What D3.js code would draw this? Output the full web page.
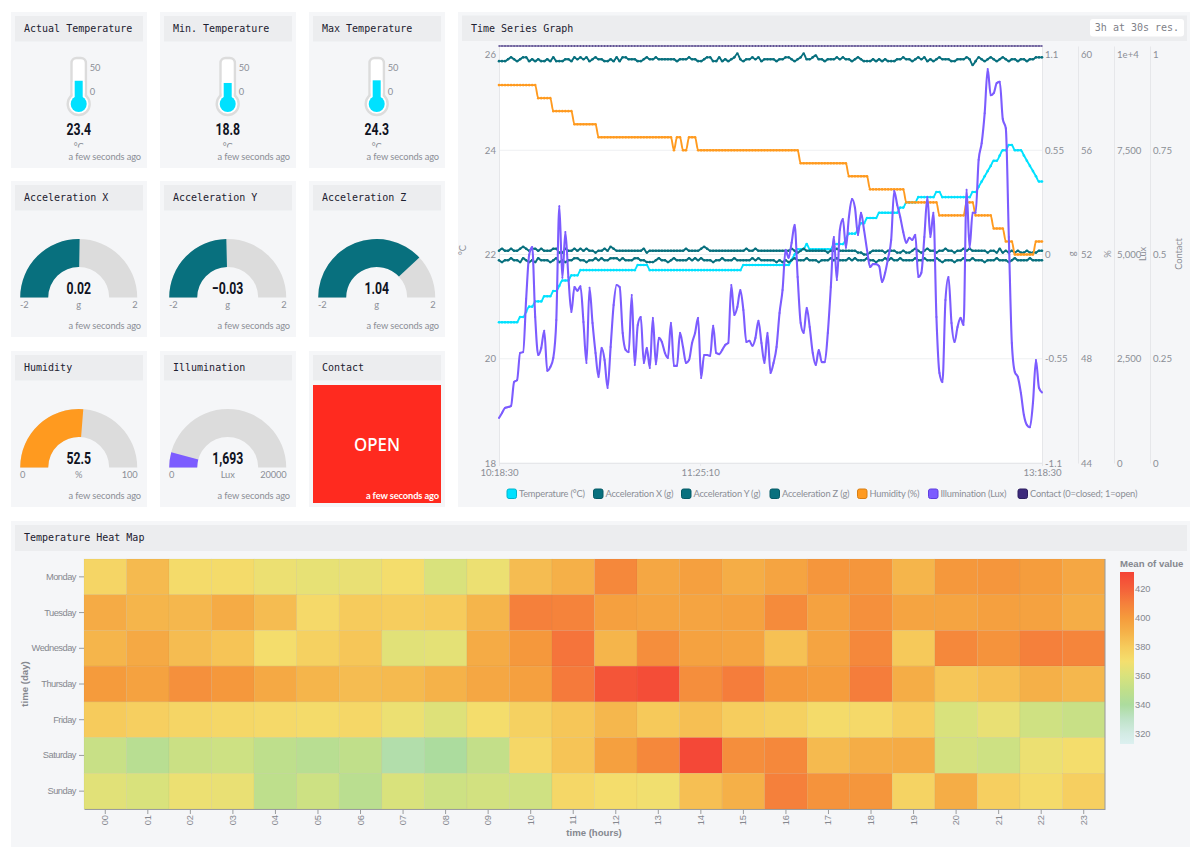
<!DOCTYPE html>
<html>
<head>
<meta charset="utf-8">
<title>Sensor dashboard</title>
<script src="https://cdn.jsdelivr.net/npm/d3@7"></script>
<style>
body { margin: 0; background: #fff; }
svg { display: block; }
.panel { fill: #f5f6f8; }
.titlebar { fill: #ecedef; }
.title { font-family: "DejaVu Sans Mono", monospace; font-size: 10px; fill: #1d2130; }
.ago { font-family: Lato, sans-serif; font-size: 9.3px; letter-spacing: -0.12px; fill: #8b8e96; text-anchor: end; }
.small { font-family: Lato, sans-serif; font-size: 9.3px; letter-spacing: -0.12px; fill: #8b8e96; }
.big { font-family: Roboto, sans-serif; font-weight: 700; font-size: 17px; fill: #10131f; text-anchor: middle; }
.tsaxis text { font-family: Lato, sans-serif; font-size: 9.6px; fill: #8b8e96; }
.tsaxis path, .tsaxis line { stroke: #e6e7ea; }
.hm text { font-family: "Liberation Sans", sans-serif; font-size: 9.3px; fill: #85888f; }
.hm path, .hm line { stroke: #9a9c9e; }
.daylabels text { letter-spacing: -0.5px; }
.hmtitle { font-family: "Liberation Sans", sans-serif; font-size: 9.6px; font-weight: 700; fill: #85888f; }
</style>
</head>
<body>
<svg width="1200" height="859"></svg>
<script>
// card readings
var thermoTitles = ["Actual Temperature", "Min. Temperature", "Max Temperature"];
var thermoValues = [23.4, 18.8, 24.3];
var thermoTicks = [0, 50];

var accelTitles = ["Acceleration X", "Acceleration Y", "Acceleration Z"];
var accelValues = [0.02, -0.03, 1.04];
var accelRange = [-2, 2];

var humidityNow = 52.5;
var humidityRange = [0, 100];
var illuminationNow = 1693;
var illuminationRange = [0, 20000];

// time series, one reading per minute from 10:18:30
var temperature = [
  20.7,20.7,20.7,20.7,20.7,20.7,20.7,20.8,20.8,20.9,
  21,21,21.1,21.1,21.1,21.2,21.2,21.2,21.3,21.3,
  21.4,21.5,21.5,21.5,21.6,21.6,21.6,21.7,21.7,21.7,
  21.7,21.7,21.7,21.7,21.7,21.7,21.7,21.7,21.7,21.7,
  21.7,21.7,21.7,21.7,21.7,21.7,21.8,21.8,21.8,21.8,
  21.7,21.7,21.7,21.7,21.7,21.7,21.7,21.7,21.7,21.7,
  21.7,21.7,21.7,21.7,21.7,21.7,21.7,21.7,21.7,21.7,
  21.7,21.7,21.7,21.7,21.7,21.7,21.7,21.7,21.7,21.7,
  21.7,21.8,21.8,21.8,21.8,21.8,21.8,21.8,21.8,21.8,
  21.8,21.8,21.8,21.8,21.8,21.8,21.8,21.9,22,22.1,
  22.1,22.1,22.2,22.1,22.1,22.1,22.1,22.1,22.1,22.1,
  22.1,22.2,22.2,22.2,22.2,22.3,22.4,22.4,22.4,22.5,
  22.6,22.6,22.7,22.7,22.7,22.7,22.8,22.8,22.8,22.8,
  22.8,22.8,22.8,22.9,22.9,23,23,23,23,23.1,
  23.1,23.1,23.1,23.1,23.1,23.2,23.2,23.1,23.1,23.1,
  23.1,23.1,23.1,23.1,23.1,23.1,23.1,23.2,23.2,23.3,
  23.4,23.5,23.6,23.7,23.8,23.8,23.9,24,24,24.1,
  24.1,24,24,24,23.9,23.8,23.7,23.6,23.5,23.4,
  23.4
];
var accelX = [
  0.02,0.03,0.02,0.02,0.03,0.02,0.02,0.03,0.04,0.03,
  0.02,0.03,0.03,0.02,0.03,0.02,0.02,0.02,0.03,0.03,
  0.01,0.01,0.03,0.02,0.02,0.03,0.02,0.03,0.02,0.03,
  0.02,0.02,0.01,0.02,0.02,0.03,0.02,0.04,0.03,0.02,
  0.02,0.02,0.02,0.02,0.02,0.02,0.02,0.02,0.03,0.01,
  0.02,0.02,0.02,0.02,0.02,0.02,0.02,0.02,0.02,0.02,
  0.02,0.02,0.03,0.02,0.02,0.02,0.02,0.03,0.04,0.03,
  0.02,0.02,0.02,0.02,0.02,0.02,0.02,0.02,0.02,0.02,
  0.02,0.02,0.03,0.02,0.02,0.03,0.02,0.02,0.02,0.02,
  0.02,0.02,0.02,0.02,0.02,0.02,0.02,0.03,0.02,0.01,
  0.02,0.03,0.02,0.02,0.02,0.02,0.02,0.02,0.02,0.01,
  0.02,0.02,0.03,0.02,0.02,0.02,0.02,0.02,0.02,0.01,
  0.01,0,0,0.01,0.02,0.02,0.02,0.02,0.01,0.02,
  0.02,0.02,0.01,0.01,0.02,0.01,0.01,0.02,0.03,0.02,
  0.01,0.02,0.03,0.02,0.02,0.01,0.02,0.02,0.03,0.02,
  0.02,0.01,0.02,0.02,0.03,0.02,0.03,0.02,0.02,0.02,
  0.02,0.02,0.01,0.02,0.02,0.01,0.03,0.01,0.02,0.01,
  0.02,0.01,0.02,0.01,0.01,0.02,0.01,0.01,0.01,0.02,
  0.02
];
var accelY = [
  -0.03,-0.04,-0.03,-0.03,-0.02,-0.03,-0.03,-0.04,-0.02,-0.03,
  -0.04,-0.03,-0.04,-0.02,-0.03,-0.03,-0.03,-0.04,-0.03,-0.02,
  -0.04,-0.03,-0.04,-0.03,-0.03,-0.02,-0.02,-0.03,-0.03,-0.04,
  -0.03,-0.03,-0.02,-0.03,-0.02,-0.03,-0.03,-0.02,-0.02,-0.02,
  -0.03,-0.02,-0.03,-0.03,-0.03,-0.02,-0.02,-0.03,-0.03,-0.04,
  -0.04,-0.04,-0.03,-0.02,-0.03,-0.03,-0.04,-0.03,-0.02,-0.03,
  -0.03,-0.03,-0.03,-0.02,-0.03,-0.02,-0.03,-0.02,-0.03,-0.03,
  -0.03,-0.04,-0.03,-0.03,-0.02,-0.03,-0.03,-0.03,-0.02,-0.03,
  -0.03,-0.03,-0.03,-0.03,-0.02,-0.03,-0.02,-0.03,-0.03,-0.03,
  -0.03,-0.03,-0.04,-0.03,-0.04,-0.03,-0.04,-0.03,-0.02,-0.03,
  -0.03,-0.03,-0.02,-0.03,-0.03,-0.03,-0.04,-0.03,-0.03,-0.03,
  -0.02,-0.03,-0.02,-0.03,-0.03,-0.03,-0.02,-0.03,-0.02,-0.03,
  -0.03,-0.03,-0.02,-0.03,-0.03,-0.04,-0.03,-0.03,-0.02,-0.03,
  -0.02,-0.03,-0.03,-0.02,-0.03,-0.03,-0.03,-0.03,-0.02,-0.03,
  -0.03,-0.02,-0.03,-0.03,-0.03,-0.02,-0.03,-0.04,-0.03,-0.03,
  -0.03,-0.04,-0.03,-0.03,-0.02,-0.03,-0.03,-0.02,-0.03,-0.03,
  -0.03,-0.04,-0.03,-0.03,-0.03,-0.02,-0.03,-0.03,-0.03,-0.04,
  -0.03,-0.02,-0.03,-0.03,-0.03,-0.03,-0.02,-0.03,-0.03,-0.03,
  -0.03
];
var accelZ = [
  1.02,1.02,1.02,1.03,1.04,1.03,1.02,1.03,1.04,1.04,
  1.02,1.03,1.02,1.03,1.02,1.02,1.03,1.02,1.04,1.02,
  1.02,1.02,1.03,1.03,1.02,1.04,1.03,1.04,1.03,1.04,
  1.02,1.03,1.04,1.03,1.03,1.02,1.02,1.03,1.02,1.04,
  1.02,1.04,1.04,1.03,1.03,1.03,1.02,1.02,1.03,1.04,
  1.03,1.03,1.04,1.03,1.03,1.03,1.03,1.03,1.03,1.02,
  1.03,1.03,1.03,1.04,1.03,1.03,1.02,1.02,1.03,1.04,
  1.04,1.02,1.02,1.04,1.02,1.03,1.02,1.03,1.04,1.06,
  1.03,1.02,1.03,1.03,1.04,1.03,1.04,1.02,1.03,1.03,
  1.03,1.03,1.02,1.03,1.03,1.04,1.04,1.03,1.02,1.03,
  1.04,1.06,1.03,1.03,1.04,1.05,1.03,1.03,1.02,1.03,
  1.03,1.03,1.04,1.03,1.04,1.03,1.03,1.02,1.03,1.04,
  1.03,1.02,1.02,1.02,1.03,1.02,1.03,1.02,1.03,1.02,
  1.02,1.02,1.03,1.03,1.04,1.03,1.03,1.02,1.03,1.04,
  1.03,1.04,1.02,1.03,1.02,1.03,1.04,1.03,1.03,1.03,
  1.02,1.02,1.03,1.03,1.03,1.04,1.03,1,1.02,1.04,
  1.03,1.02,1.03,1.04,1.03,1.02,1.03,1.04,1.03,1.02,
  1.03,1.03,1.02,1.03,1.03,1.02,1.03,1.03,1.04,1.04,
  1.04
];
var humidity = [
  58.5,58.5,58.5,58.5,58.5,58.5,58.5,58.5,58.5,58.5,
  58.5,58.5,58.5,58,58,58,58,58,57.5,57.5,
  57.5,57.5,57.5,57.5,57.5,57,57,57,57,57,
  57,57,57,56.5,56.5,56.5,56.5,56.5,56.5,56.5,
  56.5,56.5,56.5,56.5,56.5,56.5,56.5,56.5,56.5,56.5,
  56.5,56.5,56.5,56.5,56.5,56.5,56.5,56.5,56,56.5,
  56.5,56,56,56.5,56.5,56.5,56,56,56,56,
  56,56,56,56,56,56,56,56,56,56,
  56,56,56,56,56,56,56,56,56,56,
  56,56,56,56,56,56,56,56,56,56,
  55.5,55.5,55.5,55.5,55.5,55.5,55.5,55.5,55.5,55.5,
  55.5,55.5,55.5,55.5,55.5,55.5,55,55,55,55,
  55,55,55,54.5,54.5,54.5,54.5,54.5,54.5,54.5,
  54.5,54.5,54.5,54.5,54.5,54,54,54,54,54,
  54,54,54,54,54,54,53.5,53.5,53.5,53.5,
  53.5,53.5,53.5,53.5,53.5,54,54,54,53.5,53.5,
  53.5,53.5,53.5,53.5,53,53,53,53,52.5,52.5,
  52.5,52,52,52,52,52,52,52,52.5,52.5,
  52.5
];
var illumination = [
  1080,1200,1320,1340,1370,1940,1990,2640,2660,3930,
  4990,5180,3500,2590,2760,3170,2210,2300,2520,3430,
  6160,4440,5540,4460,3620,4220,4130,4240,3380,2400,
  4200,3360,2640,2060,2760,2470,1800,2780,3790,4270,
  4220,3120,2710,2660,4030,2350,3310,3500,2400,2760,
  2280,3480,2370,3000,2900,2640,2520,3360,2330,2330,
  3120,2780,2400,2470,2880,3120,3480,2040,2590,2590,
  2570,3290,2640,2610,2710,2830,2880,4270,3550,3740,
  4150,3670,2900,2930,2810,3000,3410,2880,2400,3120,
  2160,2400,2780,3600,4150,5110,4920,5280,5710,4460,
  3360,3120,3720,3260,2640,2350,2710,2420,2420,3120,
  4220,5420,4390,5590,5850,5160,5900,6330,6120,5470,
  6000,5590,5110,4700,4770,4770,4720,4340,4560,4920,
  5350,6520,6190,5900,5540,5280,5400,5350,5470,4460,
  4560,5420,6380,5420,6000,3500,2160,1940,3910,4460,
  3360,2900,3260,3480,3310,6550,5160,6000,6000,7270,
  7670,8390,9450,8820,8870,9110,9140,8250,8030,5420,
  2880,2180,2060,1680,1150,910,860,1440,2470,1800,
  1690
];
var contact = [
  1,1,1,1,1,1,1,1,1,1, 1,1,1,1,1,1,1,1,1,1,
  1,1,1,1,1,1,1,1,1,1, 1,1,1,1,1,1,1,1,1,1,
  1,1,1,1,1,1,1,1,1,1, 1,1,1,1,1,1,1,1,1,1,
  1,1,1,1,1,1,1,1,1,1, 1,1,1,1,1,1,1,1,1,1,
  1,1,1,1,1,1,1,1,1,1, 1,1,1,1,1,1,1,1,1,1,
  1,1,1,1,1,1,1,1,1,1, 1,1,1,1,1,1,1,1,1,1,
  1,1,1,1,1,1,1,1,1,1, 1,1,1,1,1,1,1,1,1,1,
  1,1,1,1,1,1,1,1,1,1, 1,1,1,1,1,1,1,1,1,1,
  1,1,1,1,1,1,1,1,1,1, 1,1,1,1,1,1,1,1,1,1,
  1
];

var tempTicks = [18, 20, 22, 24, 26];
var accelTicks = [-1.1, -0.55, 0, 0.55, 1.1];
var humidityTicks = [44, 48, 52, 56, 60];
var luxTicks = [0, 2500, 5000, 7500, 10000];
var contactTicks = [0, 0.25, 0.5, 0.75, 1];
var legendNames = ["Temperature (°C)", "Acceleration X (g)", "Acceleration Y (g)", "Acceleration Z (g)", "Humidity (%)", "Illumination (Lux)", "Contact (0=closed; 1=open)"];

// heat map
var days = ["Monday", "Tuesday", "Wednesday", "Thursday", "Friday", "Saturday", "Sunday"];
var hours = ["00","01","02","03","04","05","06","07","08","09","10","11","12","13","14","15","16","17","18","19","20","21","22","23"];
var mondayMeans = [375,387,372,372,367,365,366,371,360,367,386,391,407,395,398,392,396,402,402,389,401,402,399,395];
var tuesdayMeans = [393,389,388,393,386,373,380,379,380,389,410,409,398,396,396,397,406,397,404,396,396,398,397,392];
var wednesdayMeans = [389,394,386,383,371,377,382,363,364,393,401,414,389,405,397,396,384,396,407,381,407,403,410,408];
var thursdayMeans = [400,397,404,401,394,389,386,387,390,395,398,412,425,428,405,411,401,399,411,392,382,385,391,388];
var fridayMeans = [380,378,375,374,373,372,374,367,362,371,377,382,388,381,385,379,377,372,373,379,360,366,356,353];
var saturdayMeans = [353,346,354,355,349,346,350,337,340,351,374,383,398,407,430,405,407,387,392,393,358,355,367,371];
var sundayMeans = [363,360,367,366,349,355,347,360,355,357,356,374,371,369,385,391,410,403,402,376,392,378,372,378];
var heatTicks = [320, 340, 360, 380, 400, 420];

var COL = { temp: "#00e1ff", teal: "#08707e", orange: "#ff9a1f", purple: "#7c5cff", contact: "#3d2a7c", grey: "#dcdcdc" };

var svg = d3.select("svg");

function card(x, y, w, h, title) {
    var g = svg.append("g").attr("transform", "translate(" + x + "," + y + ")");
    g.append("rect").attr("class", "panel").attr("width", w).attr("height", h);
    g.append("rect").attr("class", "titlebar").attr("x", 4).attr("y", 4).attr("width", w - 8).attr("height", 25.5);
    g.append("text").attr("class", "title").attr("x", 13).attr("y", 20).text(title);
    return g;
}

function ago(g, y, fill, weight) {
    g.append("text").attr("class", "ago").attr("x", 130).attr("y", y).text("a few seconds ago")
        .style("fill", fill || null).style("font-weight", weight || null);
}

function bigValue(g, x, y, label) {
    // no condensed face installed, so squeeze Roboto Bold
    g.append("text").attr("class", "big")
        .attr("transform", "translate(" + x + "," + y + ") scale(0.72,1)")
        .text(label);
}

// --------- thermometers
var thermoX = [11, 160, 309];
var thermoY = d3.scaleLinear().domain([0, 50]).range([80, 56]);

thermoTitles.forEach(function (title, i) {
    var g = card(thermoX[i], 12, 136, 156, title);
    var cx = 67.7;
    g.append("rect").attr("x", cx - 7.2).attr("y", 46).attr("width", 14.4).attr("height", 45).attr("rx", 5)
        .attr("fill", "#fff").attr("stroke", COL.grey).attr("stroke-width", 2.4);
    g.append("circle").attr("cx", cx).attr("cy", 92).attr("r", 11).attr("fill", "#fff").attr("stroke", COL.grey).attr("stroke-width", 2.4);
    g.append("rect").attr("x", cx - 6).attr("y", 70).attr("width", 12).attr("height", 20).attr("fill", "#fff");
    g.append("rect").attr("x", cx - 4).attr("y", thermoY(thermoValues[i])).attr("width", 8)
        .attr("height", 92 - thermoY(thermoValues[i])).attr("fill", COL.temp);
    g.append("circle").attr("cx", cx).attr("cy", 92).attr("r", 8).attr("fill", COL.temp);

    thermoTicks.forEach(function (t) {
        g.append("text").attr("class", "small").attr("x", cx + 11).attr("y", thermoY(t) + 3.2).text(t);
    });
    bigValue(g, cx, 122.5, thermoValues[i]);

    // the unit is cut off by the widget in the original
    var clipId = "unit" + i;
    g.append("clipPath").attr("id", clipId).append("rect").attr("x", 50).attr("y", 128).attr("width", 40).attr("height", 7.6);
    g.append("text").attr("class", "small").attr("x", cx).attr("y", 138).attr("text-anchor", "middle")
        .attr("clip-path", "url(#" + clipId + ")").text("°C");
    ago(g, 147.5);
});

// --------- gauges
var gaugeArc = d3.arc().innerRadius(30.5).outerRadius(58.5);

function gauge(x, y, title, value, range, label, unit, color) {
    var g = card(x, y, 136, 156, title);
    var cx = 67.7, cy = 116.5;
    var angle = d3.scaleLinear().domain(range).range([-Math.PI / 2, Math.PI / 2]);
    var a = g.append("g").attr("transform", "translate(" + cx + "," + cy + ")");
    a.append("path").attr("fill", COL.grey).attr("d", gaugeArc({ startAngle: -Math.PI / 2, endAngle: Math.PI / 2 }));
    a.append("path").attr("fill", color).attr("d", gaugeArc({ startAngle: -Math.PI / 2, endAngle: angle(value) }));
    bigValue(g, cx, cy - 3.5, label);
    g.append("text").attr("class", "small").attr("x", 9).attr("y", cy + 10).text(range[0]);
    g.append("text").attr("class", "small").attr("x", 126.5).attr("y", cy + 10).attr("text-anchor", "end").text(range[1]);
    g.append("text").attr("class", "small").attr("x", cx).attr("y", cy + 10).attr("text-anchor", "middle").text(unit);
    ago(g, 147.5);
}

accelTitles.forEach(function (title, i) {
    gauge(thermoX[i], 181, title, accelValues[i], accelRange, d3.format(".2f")(accelValues[i]), "g", COL.teal);
});
gauge(thermoX[0], 351, "Humidity", humidityNow, humidityRange, d3.format(".1f")(humidityNow), "%", COL.orange);
gauge(thermoX[1], 351, "Illumination", illuminationNow, illuminationRange, d3.format(",")(illuminationNow), "Lux", COL.purple);

var contactCard = card(thermoX[2], 351, 136, 156, "Contact");
contactCard.append("rect").attr("x", 4).attr("y", 34).attr("width", 128).attr("height", 118).attr("fill", "#ff2a1f");
contactCard.append("text").attr("x", 68).attr("y", 99.5).attr("text-anchor", "middle")
    .style("font-family", '"Noto Sans", sans-serif').style("font-size", "18.5px").style("font-weight", 500).style("fill", "#fff")
    .attr("textLength", 46).attr("lengthAdjust", "spacingAndGlyphs").text("OPEN");
ago(contactCard, 147.5, "#fff", 700);

// --------- time series
var ts = svg.append("g");
ts.append("rect").attr("class", "panel").attr("x", 458).attr("y", 12).attr("width", 732).attr("height", 495);
ts.append("rect").attr("class", "titlebar").attr("x", 462).attr("y", 15.5).attr("width", 725).attr("height", 25.5);
ts.append("text").attr("class", "title").attr("x", 471).attr("y", 31.5).text("Time Series Graph");
ts.append("rect").attr("x", 1090).attr("y", 19).attr("width", 94).attr("height", 17.5).attr("rx", 3).attr("fill", "#fff");
ts.append("text").attr("class", "title").style("fill", "#7e8188").attr("x", 1137).attr("y", 31).attr("text-anchor", "middle").text("3h at 30s res.");

var left = 499, right = 1042, top_ = 46, bottom = 463;
ts.append("rect").attr("x", left).attr("y", top_).attr("width", right - left).attr("height", bottom - top_).attr("fill", "#fff");

var t0 = Date.UTC(2021, 0, 4, 10, 18, 30);
function at(i) { return new Date(t0 + i * 60000); }

var x = d3.scaleUtc().domain([at(0), at(180)]).range([left, right]);
var yTemp = d3.scaleLinear().domain([18, 26]).range([bottom, top_]);
var yAccel = d3.scaleLinear().domain([-1.1, 1.1]).range([bottom, top_]);
var yHum = d3.scaleLinear().domain([44, 60]).range([bottom, top_]);
var yLux = d3.scaleLinear().domain([0, 10000]).range([bottom, top_]);
var yContact = d3.scaleLinear().domain([0, 1]).range([bottom, top_]);

// horizontal grid from the temperature axis
ts.append("g").selectAll("line").data(tempTicks).enter().append("line")
    .attr("x1", left).attr("x2", right)
    .attr("y1", function (d) { return yTemp(d); }).attr("y2", function (d) { return yTemp(d); })
    .attr("stroke", "#eef0f2");

function vAxis(scale, ticks, xpos, fmt) {
    var g = ts.append("g").attr("class", "tsaxis").attr("transform", "translate(" + xpos + ",0)")
        .call(d3.axisRight(scale).tickValues(ticks).tickSize(0).tickPadding(3).tickFormat(fmt));
    // the top label is kept inside the plot
    g.selectAll("text").filter(function (d) { return d === ticks[ticks.length - 1]; }).attr("y", 8);
    return g;
}

var yAxisLeft = ts.append("g").attr("class", "tsaxis").attr("transform", "translate(" + left + ",0)")
    .call(d3.axisLeft(yTemp).tickValues(tempTicks).tickSize(0).tickPadding(3));
yAxisLeft.selectAll("text").filter(function (d) { return d === 26; }).attr("y", 8);

vAxis(yAccel, accelTicks, right, function (d) { return d; });
vAxis(yHum, humidityTicks, 1078, function (d) { return d; });
vAxis(yLux, luxTicks, 1114, function (d) { return d === 10000 ? "1e+4" : d3.format(",")(d); });
vAxis(yContact, contactTicks, 1150, function (d) { return d; });

ts.append("g").attr("class", "tsaxis").attr("transform", "translate(0," + bottom + ")")
    .call(d3.axisBottom(x).tickValues([at(0), new Date(t0 + 4000000), at(180)]).tickSize(3).tickPadding(3.5).tickFormat(d3.utcFormat("%H:%M:%S")));

[["°C", 466, 250], ["g", 1075, 254], ["%", 1110.5, 254], ["Lux", 1146, 254], ["Contact", 1182, 254]].forEach(function (d) {
    ts.append("text").attr("class", "small")
        .attr("transform", "translate(" + d[1] + "," + d[2] + ") rotate(-90)")
        .attr("text-anchor", "middle").text(d[0]);
});

function series(values, scale, color, width, r) {
    var line = d3.line()
        .x(function (d, i) { return x(at(i)); })
        .y(function (d) { return scale(d); })
        .curve(d3.curveMonotoneX);
    var g = ts.append("g");
    g.append("path").attr("d", line(values)).attr("fill", "none").attr("stroke", color).attr("stroke-width", width);
    g.selectAll("circle").data(values).enter().append("circle")
        .attr("cx", function (d, i) { return x(at(i)); })
        .attr("cy", function (d) { return scale(d); })
        .attr("r", r).attr("fill", color);
}

series(temperature, yTemp, COL.temp, 1.9, 1.3);
series(accelX, yAccel, COL.teal, 1.9, 1.3);
series(accelY, yAccel, COL.teal, 1.9, 1.3);
series(accelZ, yAccel, COL.teal, 1.9, 1.3);
series(humidity, yHum, COL.orange, 1.9, 1.3);
series(illumination, yLux, COL.purple, 2.1, 1);
series(contact, yContact, COL.contact, 1, 0.7);

var legendX = [507, 593.5, 681.5, 770, 857.5, 928.5, 1018];
var legendFill = [COL.temp, COL.teal, COL.teal, COL.teal, COL.orange, COL.purple, COL.contact];
var legendEdge = ["#00b4cc", "#055a66", "#055a66", "#055a66", "#d97f12", "#5f3fe0", "#2d1f60"];
legendNames.forEach(function (name, i) {
    ts.append("rect").attr("x", legendX[i]).attr("y", 489).attr("width", 9.5).attr("height", 9.5).attr("rx", 2)
        .attr("fill", legendFill[i]).attr("stroke", legendEdge[i]);
    ts.append("text").attr("class", "small").attr("x", legendX[i] + 12).attr("y", 497)
        .style("letter-spacing", "-0.2px").text(name);
});

// --------- heat map
var hm = svg.append("g");
hm.append("rect").attr("class", "panel").attr("x", 11).attr("y", 521).attr("width", 1179).attr("height", 326);
hm.append("rect").attr("class", "titlebar").attr("x", 15).attr("y", 525).attr("width", 1172).attr("height", 26);
hm.append("text").attr("class", "title").attr("x", 24).attr("y", 541).text("Temperature Heat Map");

var xHour = d3.scaleBand().domain(hours).range([84, 1105]);
var yDay = d3.scaleBand().domain(days).range([559, 809]);

var heatStops = [313, 320, 330, 340, 350, 360, 370, 380, 390, 400, 410, 420, 432];
var heatColors = ["#dcf0f0", "#d3ebe4", "#bfe3c8", "#acdc9e", "#c0df8a", "#d9e27c", "#f4df6e", "#f6cb5c", "#f5b249", "#f59b3c", "#f5803b", "#f4613a", "#f44336"];
var color = d3.scaleLinear().domain(heatStops).range(heatColors);

var meansByDay = [mondayMeans, tuesdayMeans, wednesdayMeans, thursdayMeans, fridayMeans, saturdayMeans, sundayMeans];
var cells = [];
days.forEach(function (day, r) {
    hours.forEach(function (hour, c) {
        cells.push({ day: day, hour: hour, value: meansByDay[r][c] });
    });
});

hm.append("g").selectAll("rect").data(cells).enter().append("rect")
    .attr("x", function (d) { return xHour(d.hour); })
    .attr("y", function (d) { return yDay(d.day); })
    .attr("width", xHour.bandwidth())
    .attr("height", yDay.bandwidth())
    .attr("fill", function (d) { return color(d.value); })
    .attr("stroke", "rgba(120,110,60,0.10)")
    .attr("stroke-width", 0.6);

var xAxis = hm.append("g").attr("class", "hm").attr("transform", "translate(0,809)")
    .call(d3.axisBottom(xHour).tickSize(5).tickSizeOuter(0));
xAxis.selectAll("text").attr("transform", "rotate(-90)").attr("text-anchor", "end")
    .attr("x", -6).attr("y", 0).attr("dy", "0.32em");

var yAxis = hm.append("g").attr("class", "hm daylabels").attr("transform", "translate(84,0)")
    .call(d3.axisLeft(yDay).tickSize(5).tickSizeOuter(0));
yAxis.select(".domain").remove();

hm.append("line").attr("x1", 1105).attr("x2", 1105).attr("y1", 559).attr("y2", 809).attr("stroke", "#9a9c9e");

hm.append("text").attr("class", "hmtitle").attr("x", 594).attr("y", 836).attr("text-anchor", "middle").text("time (hours)");
hm.append("text").attr("class", "hmtitle").attr("transform", "translate(28,684) rotate(-90)").attr("text-anchor", "middle").text("time (day)");
hm.append("text").attr("class", "hmtitle").attr("x", 1120).attr("y", 567).text("Mean of value");

var barY = d3.scaleLinear().domain([320, 420]).range([733.7, 589]);
var grad = svg.append("defs").append("linearGradient").attr("id", "heatbar").attr("x1", 0).attr("x2", 0).attr("y1", 1).attr("y2", 0);
var lo = barY.invert(744), hi = barY.invert(572);
heatStops.forEach(function (s) {
    grad.append("stop").attr("offset", (s - lo) / (hi - lo)).attr("stop-color", color(s));
});
hm.append("rect").attr("x", 1120).attr("y", barY(hi)).attr("width", 14).attr("height", barY(lo) - barY(hi)).attr("fill", "url(#heatbar)");

var barAxis = hm.append("g").attr("class", "hm").attr("transform", "translate(1134,0)")
    .call(d3.axisRight(barY).tickValues(heatTicks).tickSize(0).tickPadding(1));
barAxis.select(".domain").remove();
</script>
</body>
</html>
